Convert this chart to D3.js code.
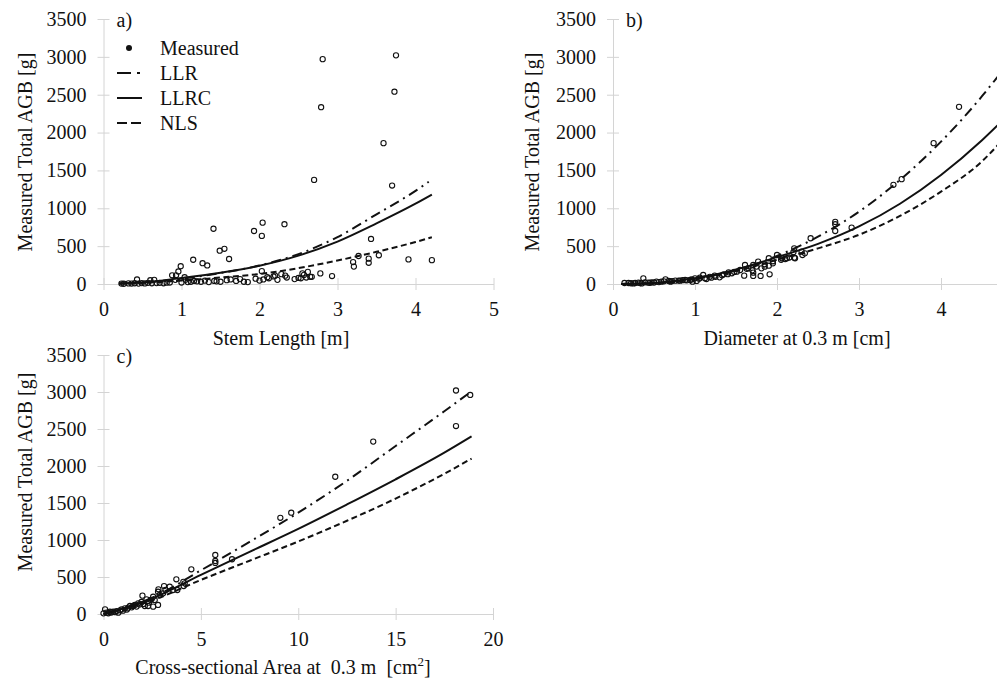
<!DOCTYPE html>
<html>
<head>
<meta charset="utf-8">
<script src="https://cdn.jsdelivr.net/npm/d3@7"></script>
<style>
  html, body { margin: 0; padding: 0; background: #fff; }
  svg { display: block; }
</style>
</head>
<body>
<div id="chart"></div>
<script>
// ---- data ----
const yTicks = [0, 500, 1000, 1500, 2000, 2500, 3000, 3500];
const xTicksA = [0, 1, 2, 3, 4, 5];
const xTicksB = [0, 1, 2, 3, 4];
const xTicksC = [0, 5, 10, 15, 20];

// a) stem length [m] vs AGB [g]
const measuredA = [
  [0.23,5],[0.26,3],[0.32,8],[0.36,6],[0.40,10],[0.43,60],[0.45,5],[0.49,12],[0.53,8],[0.57,15],
  [0.60,50],[0.62,10],[0.65,55],[0.68,12],[0.72,15],[0.77,10],[0.81,18],[0.85,20],[0.88,115],[0.92,55],
  [0.93,115],[0.96,165],[0.99,235],[1.00,20],[1.04,90],[1.05,55],[1.08,25],[1.12,30],[1.15,320],[1.16,40],
  [1.20,35],[1.25,30],[1.27,275],[1.30,45],[1.33,245],[1.35,25],[1.41,730],[1.42,40],[1.45,35],[1.49,440],
  [1.50,30],[1.55,465],[1.58,50],[1.61,330],[1.63,60],[1.70,40],[1.75,65],[1.80,30],[1.85,25],[1.93,700],
  [1.95,70],[2.00,45],[2.03,635],[2.03,170],[2.04,810],[2.05,60],[2.10,90],[2.12,75],[2.18,100],[2.20,110],
  [2.23,55],[2.28,130],[2.32,790],[2.33,110],[2.35,85],[2.45,65],[2.50,80],[2.53,75],[2.55,140],[2.57,120],
  [2.60,85],[2.62,160],[2.65,95],[2.67,95],[2.70,1375],[2.78,140],[2.79,2335],[2.81,2970],[2.93,105],[3.20,290],
  [3.21,230],[3.27,370],[3.40,335],[3.40,280],[3.43,595],[3.53,380],[3.59,1860],[3.70,1300],[3.73,2540],[3.75,3020],
  [3.91,325],[4.21,315]
];
const llrA  = [[0.2,5],[0.5,18],[1,70],[1.5,145],[2,245],[2.5,395],[3,620],[3.5,920],[4,1230],[4.17,1350]];
const llrcA = [[0.2,5],[0.5,20],[1,80],[1.5,150],[2,242],[2.5,375],[3,560],[3.5,800],[4,1060],[4.21,1180]];
const nlsA  = [[0.2,5],[0.5,15],[1,45],[1.5,85],[2,132],[2.5,210],[3,310],[3.5,425],[4,555],[4.21,617]];

// b) diameter at 0.3 m [cm] vs AGB [g]
const measuredB = [
  [0.14,13],[0.19,13],[0.22,10],[0.25,8],[0.27,13],[0.31,18],[0.33,12],[0.35,8],[0.37,75],[0.39,22],
  [0.43,18],[0.45,15],[0.47,22],[0.50,20],[0.53,31],[0.56,25],[0.59,31],[0.62,35],[0.64,62],[0.68,40],
  [0.70,31],[0.72,38],[0.76,44],[0.80,45],[0.82,44],[0.85,50],[0.88,53],[0.90,48],[0.94,53],[0.96,60],
  [0.97,31],[1.00,75],[1.02,40],[1.05,70],[1.06,84],[1.10,119],[1.12,75],[1.14,66],[1.18,95],[1.20,84],
  [1.24,110],[1.25,95],[1.30,88],[1.33,115],[1.35,128],[1.40,130],[1.41,154],[1.45,141],[1.48,160],[1.51,163],
  [1.55,185],[1.60,110],[1.61,251],[1.63,200],[1.65,207],[1.70,180],[1.71,251],[1.71,150],[1.71,106],[1.75,230],
  [1.77,295],[1.80,106],[1.81,207],[1.85,229],[1.85,260],[1.90,340],[1.90,242],[1.91,128],[1.95,273],[1.95,300],
  [2.00,383],[2.05,320],[2.06,340],[2.10,330],[2.12,340],[2.15,350],[2.20,420],[2.21,471],[2.21,348],[2.22,340],
  [2.30,427],[2.31,383],[2.34,405],[2.41,604],[2.71,820],[2.71,790],[2.71,700],[2.91,744],[3.42,1310],[3.52,1385],
  [3.91,1860],[4.22,2340]
];
const llrB  = [[0.1,1],[0.5,12],[1,70],[1.5,185],[2,370],[2.5,625],[3,955],[3.5,1375],[4,1880],[4.5,2480],[4.75,2820]];
const llrcB = [[0.1,1],[0.5,14],[1,75],[1.5,190],[2,355],[2.5,530],[3,760],[3.5,1060],[4,1440],[4.5,1900],[4.75,2160]];
const nlsB  = [[0.1,1],[0.5,12],[1,65],[1.5,170],[2,320],[2.5,470],[3,650],[3.5,900],[4,1220],[4.5,1620],[4.75,1900]];

// c) cross-sectional area at 0.3 m [cm2] vs AGB [g]
const measuredC = [
  [0.00,9],[0.08,63],[0.16,18],[0.25,10],[0.33,31],[0.40,20],[0.50,31],[0.60,25],[0.67,40],[0.76,18],
  [0.85,50],[0.93,63],[1.00,45],[1.10,77],[1.20,60],[1.27,86],[1.36,108],[1.45,90],[1.52,108],[1.61,122],
  [1.70,100],[1.78,144],[1.85,130],[1.95,162],[2.00,248],[2.04,135],[2.12,108],[2.21,198],[2.29,108],[2.33,153],
  [2.43,189],[2.55,234],[2.55,99],[2.63,189],[2.80,301],[2.80,122],[2.82,334],[2.89,257],[3.06,279],[3.11,378],
  [3.18,324],[3.40,369],[3.57,324],[3.74,469],[3.79,324],[4.10,435],[4.12,378],[4.17,414],[4.51,604],[5.74,797],
  [5.74,716],[5.74,690],[6.60,740],[9.08,1300],[9.64,1369],[11.90,1855],[13.85,2330],[18.10,3020],[18.10,2540],[18.83,2960]
];
const llrC  = [[0,0],[1,70],[2.5,220],[5,590],[7.5,975],[10,1370],[12.5,1800],[15,2270],[17.5,2740],[18.9,3010]];
const llrcC = [[0,0],[1,75],[2.5,210],[5,530],[7.5,840],[10,1150],[12.5,1480],[15,1820],[17.5,2180],[18.9,2400]];
const nlsC  = [[0,0],[1,65],[2.5,185],[5,460],[7.5,720],[10,980],[12.5,1260],[15,1560],[17.5,1895],[18.9,2100]];

const legendItems = ['Measured', 'LLR', 'LLRC', 'NLS'];

// ---- setup ----
const W = 997, H = 681;
const FONT = '"Liberation Serif", "Times New Roman", serif';
const AXIS_COLOR = '#d4d4d4';
const INK = '#111';
const LINE_STYLES = {
  LLR:  {dash: '10,5,2,5', width: 2},
  LLRC: {dash: null, width: 2},
  NLS:  {dash: '6,3.5', width: 2}
};

const svg = d3.select('#chart').append('svg')
  .attr('width', W).attr('height', H)
  .attr('font-family', FONT);

function drawPanel(p){
  const x = d3.scaleLinear().domain(p.xDomain).range(p.xRange);
  const y = d3.scaleLinear().domain([0, 3500]).range([p.y0, p.y1]);
  const g = svg.append('g');

  // y axis, ticks crossing the line
  const ya = g.append('g')
    .attr('transform', `translate(${p.xRange[0]},0)`)
    .call(d3.axisLeft(y).tickValues(yTicks).tickFormat(d3.format('d'))
      .tickSize(6).tickSizeOuter(0).tickPadding(11))
    .attr('font-family', FONT).attr('font-size', 20);
  ya.select('.domain').attr('stroke', AXIS_COLOR);
  ya.selectAll('.tick line').attr('stroke', AXIS_COLOR).attr('x1', 6);
  ya.selectAll('.tick text').attr('fill', INK);

  // x axis
  const xa = g.append('g')
    .attr('transform', `translate(0,${p.y0})`)
    .call(d3.axisBottom(x).tickValues(p.xTicks).tickFormat(d3.format('d'))
      .tickSize(6).tickSizeOuter(0).tickPadding(12))
    .attr('font-family', FONT).attr('font-size', 20);
  xa.select('.domain').attr('stroke', AXIS_COLOR);
  xa.selectAll('.tick line').attr('stroke', AXIS_COLOR).attr('y1', -6);
  xa.selectAll('.tick text').attr('fill', INK);

  // fitted curves
  const line = d3.line().x(d => x(d[0])).y(d => y(d[1])).curve(d3.curveMonotoneX);
  p.curves.forEach(c => {
    const st = LINE_STYLES[c.name];
    g.append('path')
      .datum(c.data)
      .attr('d', line)
      .attr('fill', 'none')
      .attr('stroke', INK)
      .attr('stroke-width', st.width)
      .attr('stroke-dasharray', st.dash);
  });

  // measured points
  g.selectAll('.pt').data(p.points).enter()
    .append('circle')
    .attr('cx', d => x(d[0]))
    .attr('cy', d => y(d[1]))
    .attr('r', 2.6)
    .attr('fill', 'none')
    .attr('stroke', INK)
    .attr('stroke-width', 1.1);

  // panel label
  g.append('text')
    .attr('x', p.xRange[0] + 13).attr('y', p.y1 + 8)
    .attr('font-size', 20).attr('fill', INK)
    .text(p.label);

  // y title
  g.append('text')
    .attr('transform', `translate(${p.yTitleX},${p.yTitleY}) rotate(-90)`)
    .attr('text-anchor', 'middle')
    .attr('font-size', 20).attr('fill', INK)
    .text('Measured Total AGB [g]');

  // x title
  const xt = g.append('text')
    .attr('x', p.xTitleX).attr('y', p.xTitleY)
    .attr('text-anchor', 'middle')
    .attr('font-size', 20).attr('fill', INK);
  p.xTitle(xt);

  return {x, y, g};
}

drawPanel({
  label: 'a)', xDomain: [0, 5], xRange: [103.5, 493.5], y0: 284, y1: 19,
  xTicks: xTicksA, points: measuredA,
  curves: [{name: 'LLR', data: llrA}, {name: 'LLRC', data: llrcA}, {name: 'NLS', data: nlsA}],
  yTitleX: 32, yTitleY: 152, xTitleX: 281, xTitleY: 345,
  xTitle: t => t.text('Stem Length [m]')
});

drawPanel({
  label: 'b)', xDomain: [0, 5], xRange: [613, 1023], y0: 284, y1: 19,
  xTicks: xTicksB, points: measuredB,
  curves: [{name: 'LLR', data: llrB}, {name: 'LLRC', data: llrcB}, {name: 'NLS', data: nlsB}],
  yTitleX: 539, yTitleY: 152, xTitleX: 797, xTitleY: 345,
  xTitle: t => t.text('Diameter at 0.3 m [cm]')
});

drawPanel({
  label: 'c)', xDomain: [0, 20], xRange: [103.5, 493], y0: 614, y1: 355,
  xTicks: xTicksC, points: measuredC,
  curves: [{name: 'LLR', data: llrC}, {name: 'LLRC', data: llrcC}, {name: 'NLS', data: nlsC}],
  yTitleX: 32, yTitleY: 472, xTitleX: 283, xTitleY: 674,
  xTitle: t => {
    t.attr('xml:space', 'preserve');
    t.append('tspan').text('Cross-sectional Area at  0.3 m  [cm');
    t.append('tspan').attr('dy', -8).attr('font-size', 13).text('2');
    t.append('tspan').attr('dy', 8).text(']');
  }
});

// legend (panel a)
const leg = svg.append('g').attr('transform', 'translate(117,48)');
legendItems.forEach((name, i) => {
  const row = leg.append('g').attr('transform', `translate(0,${i * 25})`);
  if(name === 'Measured'){
    row.append('circle').attr('cx', 12).attr('cy', 0).attr('r', 3).attr('fill', INK);
  } else {
    const dash = name === 'LLR' ? '14,6,3,20' : name === 'NLS' ? '10,4' : null;
    row.append('line')
      .attr('x1', 0).attr('x2', 25).attr('y1', 0).attr('y2', 0)
      .attr('stroke', INK).attr('stroke-width', 2)
      .attr('stroke-dasharray', dash);
  }
  row.append('text')
    .attr('x', 43).attr('y', 7)
    .attr('font-size', 20).attr('fill', INK)
    .text(name);
});
</script>
</body>
</html>
